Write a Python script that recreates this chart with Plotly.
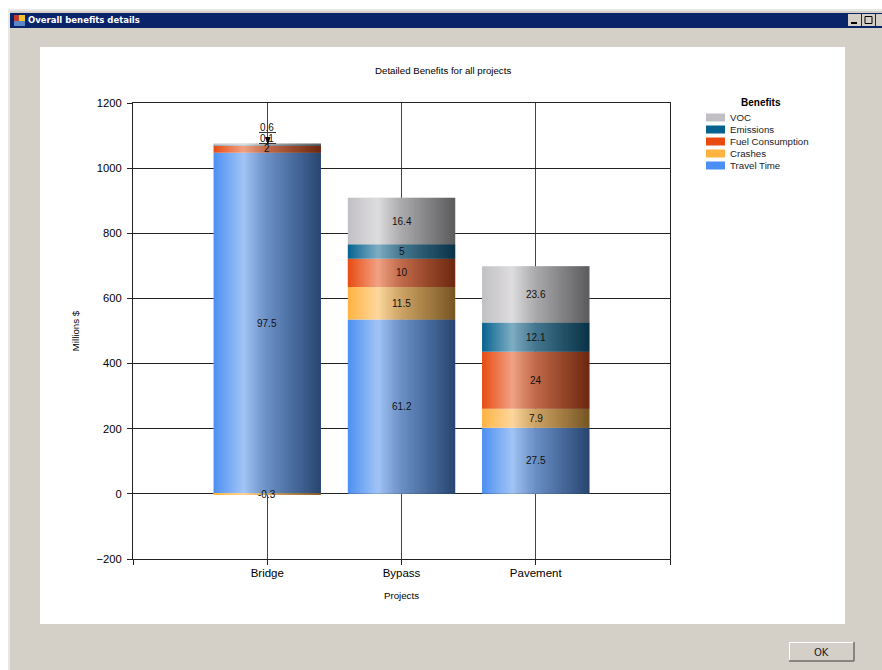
import base64, struct, zlib
import plotly.graph_objects as go

categories = ["Bridge", "Bypass", "Pavement"]
series_names = ["Travel Time", "Crashes", "Fuel Consumption", "Emissions", "VOC"]
series_colors = ["#4b8ff2", "#ffb340", "#e84a10", "#05628f", "#c1bfc3"]
travel_time = [1047, 535, 203]
crashes = [-3, 100, 58]
fuel = [21, 87, 175]
emissions = [1, 44, 90]
voc = [6.5, 143, 173]
series_values = [travel_time, crashes, fuel, emissions, voc]
travel_labels = ["97.5", "61.2", "27.5"]
crashes_labels = ["-0.3", "11.5", "7.9"]
fuel_labels = ["2", "10", "24"]
emissions_labels = ["0.1", "5", "12.1"]
voc_labels = ["0.6", "16.4", "23.6"]
series_labels = [travel_labels, crashes_labels, fuel_labels, emissions_labels, voc_labels]
y_ticks = [-200, 0, 200, 400, 600, 800, 1000, 1200]

W, H = 882, 670
L, R, T, B = 133, 670, 103, 559
FONT = "Liberation Sans"
BAR_W = 0.8


def xp(px):
    return (px - L) / (R - L)


def yp(py):
    return (B - py) / (B - T)


def rect(x0, y0, x1, y1, fill, line=None, layer="below"):
    return dict(type="rect", xref="paper", yref="paper", x0=xp(x0), x1=xp(x1),
                y0=yp(y0), y1=yp(y1), fillcolor=fill, layer=layer,
                line=dict(width=1 if line else 0, color=line or "rgba(0,0,0,0)"))


def seg(x0, y0, x1, y1, color, width=1, layer="below"):
    return dict(type="line", xref="paper", yref="paper", x0=xp(x0), x1=xp(x1),
                y0=yp(y0), y1=yp(y1), layer=layer, line=dict(color=color, width=width))


def text(px, py, s, size=10, color="black", anchor="center", bold=False, family=FONT):
    return dict(xref="paper", yref="paper", x=xp(px), y=yp(py), text=f"<b>{s}</b>" if bold else s,
                showarrow=False, xanchor=anchor, yanchor="middle",
                font=dict(family=family, size=size, color=color))


def sheen_png():
    """Horizontal light/dark sheen that gives each bar its cylinder look."""
    stops = [(0.0, 255, 0.02), (0.28, 250, 0.50), (0.5, 144, 0.46), (0.75, 68, 0.50), (1.0, 15, 0.57)]
    w = 108
    row = bytearray([0])
    for i in range(w):
        t = i / (w - 1)
        for (a, va, aa), (b, vb, ab) in zip(stops, stops[1:]):
            if a <= t <= b:
                f = (t - a) / (b - a)
                v = va + (vb - va) * f
                al = aa + (ab - aa) * f
                break
        row += bytes([int(v), int(v), int(v), int(al * 255)])

    def chunk(tag, data):
        c = tag + data
        return struct.pack(">I", len(data)) + c + struct.pack(">I", zlib.crc32(c))

    png = (b"\x89PNG\r\n\x1a\n" + chunk(b"IHDR", struct.pack(">IIBBBBB", w, 1, 8, 6, 0, 0, 0))
           + chunk(b"IDAT", zlib.compress(bytes(row))) + chunk(b"IEND", b""))
    return "data:image/png;base64," + base64.b64encode(png).decode()


x_pos = list(range(len(categories)))
fig = go.Figure()
for name, color, vals in zip(series_names, series_colors, series_values):
    fig.add_trace(go.Bar(x=x_pos, y=vals, name=name, width=BAR_W,
                         marker=dict(color=color, line=dict(width=0))))

# Sheen over each stack, in data coordinates
sheen = sheen_png()
images = []
for i in x_pos:
    top = sum(max(v[i], 0) for v in series_values)
    bottom = sum(min(v[i], 0) for v in series_values)
    images.append(dict(source=sheen, xref="x", yref="y", x=i - BAR_W / 2, y=top,
                       sizex=BAR_W, sizey=top - bottom, sizing="stretch",
                       xanchor="left", yanchor="top", layer="above"))

# Data labels at stack-segment centres
annotations = []
for i in x_pos:
    pos = 0
    for s, vals in enumerate(series_values):
        v = vals[i]
        if v < 0:
            yc = v / 2
        else:
            yc = pos + v / 2
            pos += v
        annotations.append(dict(x=i, y=yc, xref="x", yref="y", text=series_labels[s][i],
                                showarrow=False, xanchor="center", yanchor="middle",
                                font=dict(family=FONT, size=10, color="#111")))
# Move the crowded Bridge labels to their leader positions
for idx, py in [(4, 127), (3, 138), (2, 148)]:
    annotations[idx]["yref"] = "paper"
    annotations[idx]["y"] = yp(py)

# Window chrome
shapes = [
    rect(0, 0, W, H, "white"),
    rect(8, 9, W, H, "#e9e7e3"),
    rect(10, 11, W, H, "#d4d0c8"),
    rect(10, 13, W, 28, "#0a246a"),
    rect(40, 47, 845, 624, "white"),
    # title-bar icon
    rect(14, 15, 20, 21, "#c0392b"),
    rect(19, 15, 25, 21, "#f2c230"),
    rect(14, 21, 25, 26, "#5b86c9"),
    # title-bar buttons
    rect(848, 14, 861, 26, "#d4d0c8"),
    seg(851, 23, 857, 23, "black", 2),
    rect(862, 14, 875, 26, "#d4d0c8"),
    rect(865, 16.5, 872, 23.5, "rgba(0,0,0,0)", "black"),
    rect(876, 14, W, 26, "#d4d0c8"),
    # OK button
    rect(789, 642, 854, 661, "#d4d0c8"),
    seg(789, 642.5, 854, 642.5, "white"),
    seg(789.5, 642, 789.5, 661, "white"),
    seg(789, 661, 854, 661, "#6e6c68", 1.5),
    seg(854, 642, 854, 661, "#6e6c68", 1.5),
    # leader lines for the crowded Bridge labels
    seg(259, 132.5, 276, 132.5, "#333", 1, "above"),
    seg(259, 143.5, 276, 143.5, "#333", 1, "above"),
    dict(type="path", xref="paper", yref="paper", layer="above", fillcolor="black",
         line=dict(width=0),
         path=f"M {xp(265)} {yp(137)} L {xp(270.5)} {yp(137)} L {xp(268)} {yp(145)} Z"),
]
annotations += [
    text(26, 20.5, "Overall benefits details", 8.5, "white", "left", True, "DejaVu Sans"),
    text(821, 652, "OK", 10, "#222", family="DejaVu Sans"),
    text(442.5, 70.5, "Detailed Benefits for all projects", 9.7),
    text(761, 102.5, "Benefits", 10, anchor="center", bold=True),
]

# Legend, top entry first
legend_rows = [117.5, 129.5, 141.5, 153.5, 165.5]
for py, name, color in zip(legend_rows, reversed(series_names), reversed(series_colors)):
    shapes.append(rect(706, py - 4, 725, py + 4, color))
    annotations.append(text(728, py, name, 9.7, "#222", "left"))

fig.update_layout(
    width=W, height=H, autosize=False,
    margin=dict(l=L, r=W - R, t=T, b=H - B, pad=0),
    paper_bgcolor="#d4d0c8", plot_bgcolor="rgba(0,0,0,0)",
    barmode="relative", bargap=0.2, showlegend=False,
    font=dict(family=FONT, size=11, color="black"),
    shapes=shapes, images=images, annotations=annotations,
)
axis_style = dict(showline=True, linecolor="#222", linewidth=1, mirror=True,
                  showgrid=True, zeroline=False,
                  ticks="outside", ticklen=5, tickcolor="#222", tickwidth=1)
fig.update_xaxes(range=[-1, 3], tickmode="array", tickvals=[-1] + x_pos + [3],
                 ticktext=[""] + categories + [""], tickfont=dict(size=11.5),
                 gridcolor="#444", gridwidth=1.3, ticklabelstandoff=-2,
                 title=dict(text="Projects", font=dict(size=9.7), standoff=14), **axis_style)
fig.update_yaxes(range=[-200, 1200], tickmode="array", tickvals=y_ticks,
                 tickfont=dict(size=11.2), gridcolor="#222", gridwidth=1, ticklabelstandoff=3,
                 title=dict(text="Millions $", font=dict(size=9.7), standoff=15), **axis_style)

fig.write_html("out.html", config=dict(displayModeBar=False),
               post_script="document.body.style.margin='0';document.body.style.overflow='hidden';")
